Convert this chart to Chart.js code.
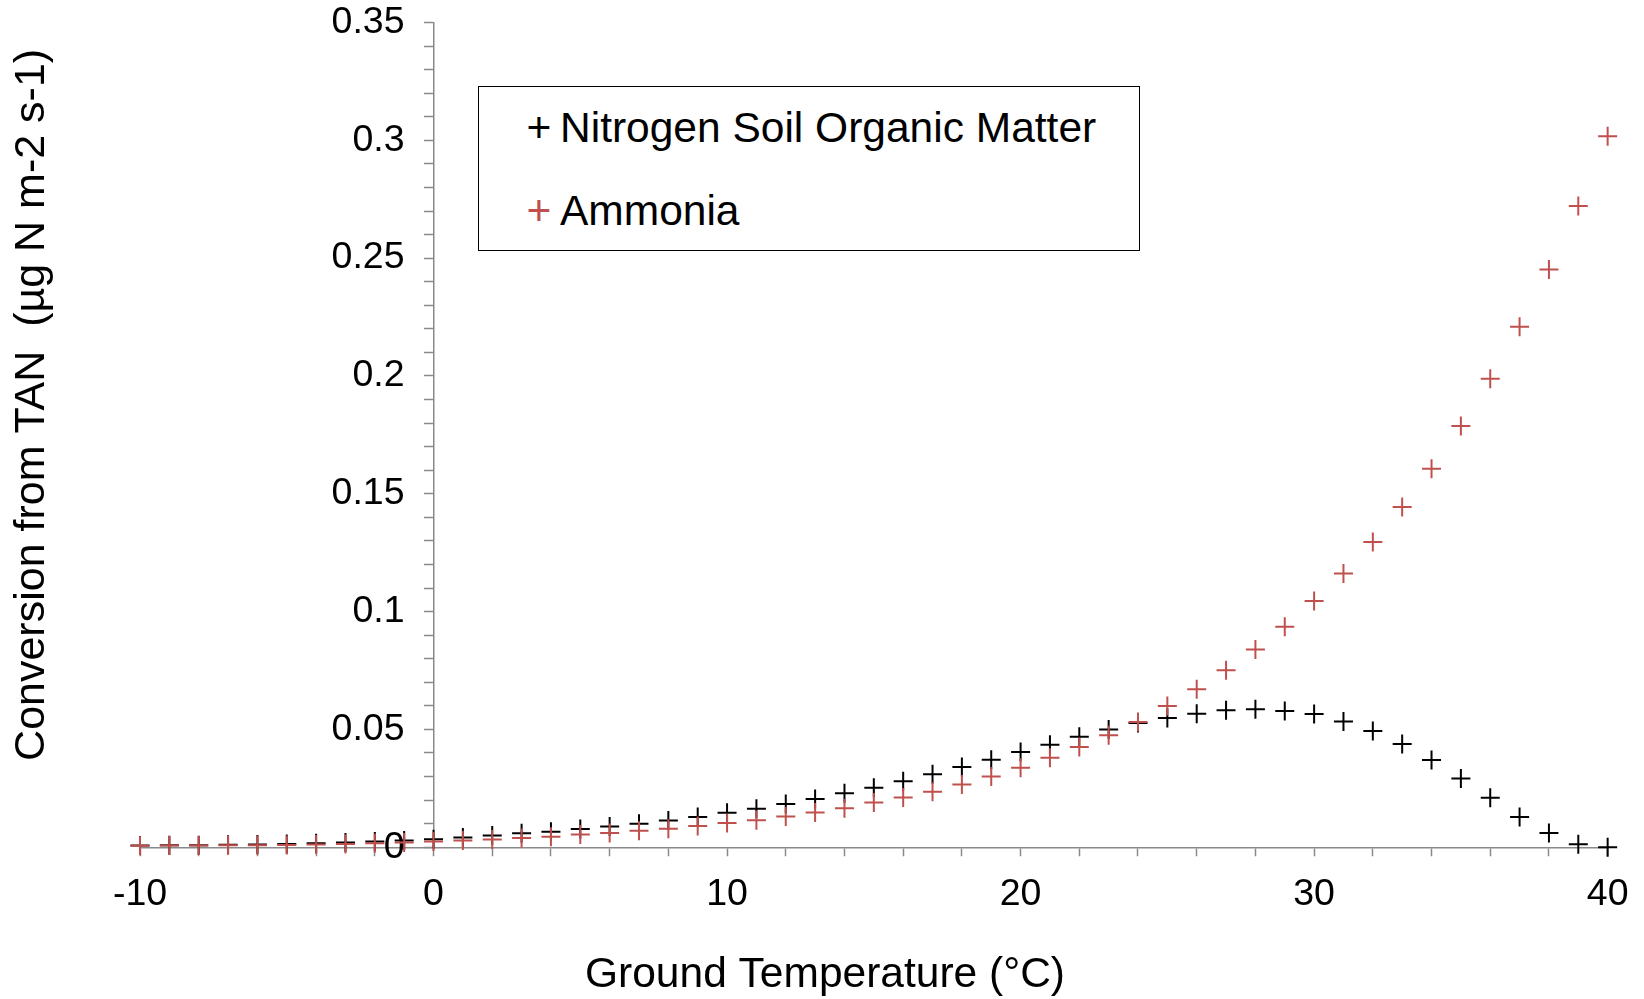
<!DOCTYPE html>
<html>
<head>
<meta charset="utf-8">
<script src="https://cdn.jsdelivr.net/npm/chart.js@4/dist/chart.umd.min.js"></script>
<style>
  html, body { margin: 0; padding: 0; background: #fff; }
  #wrap { position: relative; width: 1644px; height: 999px; }
  #legend {
    position: absolute; left: 478px; top: 86px; width: 662px; height: 165px;
    box-sizing: border-box; border: 1.5px solid #000; background: #fff;
    font-family: "Liberation Sans", Arial, sans-serif; font-size: 42.5px; color: #000;
  }
  .item { position: absolute; left: 0; height: 50px; line-height: 50px; white-space: nowrap; }
  .mark { position: absolute; width: 30px; margin-left: -15px; text-align: center; }
  .lbl { position: absolute; }
</style>
</head>
<body>
<div id="wrap">
  <canvas id="c" width="1644" height="999"></canvas>
  <div id="legend"></div>
</div>
<script>
// ---- data ----
const temperatures = [-10,-9,-8,-7,-6,-5,-4,-3,-2,-1,0,1,2,3,4,5,6,7,8,9,10,11,12,13,14,15,16,17,18,19,20,21,22,23,24,25,26,27,28,29,30,31,32,33,34,35,36,37,38,39,40];
const nitrogenSOM = [0.0007,0.0008,0.0009,0.0011,0.0012,0.0014,0.0017,0.0020,0.0024,0.0029,
  0.0034,0.0041,0.0050,0.0059,0.0066,0.0077,0.0088,0.0100,0.0113,0.0128,
  0.0146,0.0163,0.0184,0.0205,0.0229,0.0253,0.0280,0.0310,0.0341,0.0371,
  0.0404,0.0435,0.0469,0.0500,0.0527,0.0548,0.0567,0.0581,0.0586,0.0578,
  0.0565,0.0534,0.0493,0.0438,0.0370,0.0292,0.0210,0.0128,0.0061,0.0013,0.0000];
const ammonia = [0.0006,0.0007,0.0007,0.0008,0.0009,0.0010,0.0012,0.0014,0.0017,0.0020,
  0.0024,0.0029,0.0033,0.0039,0.0045,0.0054,0.0060,0.0070,0.0079,0.0090,
  0.0103,0.0115,0.0130,0.0147,0.0166,0.0190,0.0211,0.0236,0.0266,0.0300,
  0.0337,0.0380,0.0425,0.0475,0.0531,0.0599,0.0671,0.0751,0.0839,0.0936,
  0.1045,0.1162,0.1295,0.1444,0.1606,0.1788,0.1988,0.2209,0.2452,0.2721,0.3017];
const seriesNames = ['Nitrogen Soil Organic Matter', 'Ammonia'];
const xTickLabels = ['-10','0','10','20','30','40'];
const yTickLabels = ['0','0.05','0.1','0.15','0.2','0.25','0.3','0.35'];
const xTitle = 'Ground Temperature (°C)';
const yTitle = 'Conversion from TAN  (µg N m-2 s-1)';

// ---- styles ----
const FONT = '"Liberation Sans", Arial, sans-serif';
const AXIS = '#8a8a8a';
const COLORS = ['#000000', '#C0504D'];

const toPts = (ys) => temperatures.map((t, i) => ({x: t, y: ys[i]}));

const ds = (name, ys, color, order) => ({
  label: name, data: toPts(ys), showLine: false,
  pointStyle: 'cross', pointRadius: 9.5, pointHoverRadius: 9.5,
  pointBorderWidth: 2, borderColor: color, backgroundColor: color,
  clip: false, order: order
});

// shifts: y tick labels away from the centred axis, y title upward
const adjust = {
  id: 'adjust',
  afterLayout(chart) {
    const t = chart.scales.yTitleAxis;
    t.top -= 30; t.bottom -= 30;
  },
  beforeDraw(chart) {
    const s = chart.scales.y;
    const items = s.getLabelItems(chart.chartArea);
    if (!items.$shifted) {
      items.forEach(it => { it.options.translation[0] -= 29; });
      items.$shifted = true;
    }
  }
};

new Chart(document.getElementById('c'), {
  type: 'scatter',
  data: { datasets: [ ds(seriesNames[0], nitrogenSOM, COLORS[0], 1), ds(seriesNames[1], ammonia, COLORS[1], 0) ] },
  plugins: [adjust],
  options: {
    responsive: false, animation: false, devicePixelRatio: 1,
    layout: { padding: { left: 6, right: 0, top: 6, bottom: 0 } },
    plugins: {
      legend: { display: false }, tooltip: { enabled: false },
      title: {
        display: true, position: 'bottom', text: xTitle, color: '#000',
        font: { family: FONT, size: 42.5, weight: 'normal', lineHeight: 1.1 },
        padding: { top: 20, bottom: 0 }
      }
    },
    scales: {
      x: {
        type: 'linear', position: 'bottom', min: -10, max: 40,
        ticks: {
          stepSize: 2, autoSkip: false, maxRotation: 0, padding: 15.5, color: '#000',
          font: { family: FONT, size: 37.5 },
          callback: (v) => (Math.round(v) % 10 === 0 ? xTickLabels[(Math.round(v) + 10) / 10] : '')
        },
        grid: { drawOnChartArea: false, tickLength: 9, color: AXIS, tickColor: AXIS, tickWidth: 1.5 },
        border: { color: AXIS, width: 1.5 }
      },
      y: {
        type: 'linear', position: { x: 0 }, min: 0, max: 0.35, z: 1,
        ticks: {
          stepSize: 0.01, autoSkip: false, padding: 0, color: '#000',
          font: { family: FONT, size: 37.5 },
          callback: (v) => { const r = Math.round(v * 100); return r % 5 === 0 ? yTickLabels[r / 5] : ''; }
        },
        grid: { drawOnChartArea: false, tickLength: 9, color: AXIS, tickColor: AXIS, tickWidth: 1.5 },
        border: { color: AXIS, width: 1.5 }
      },
      yTitleAxis: {
        type: 'linear', axis: 'y', position: 'left', min: 0, max: 1,
        ticks: { display: false },
        grid: { display: false, drawTicks: false },
        border: { display: false },
        afterFit: (s) => { s.width = 134; },
        title: { display: true, text: yTitle, color: '#000', font: { family: FONT, size: 43 }, padding: { top: 0, bottom: 0 } }
      },
      padRight: {
        type: 'linear', axis: 'y', position: 'right', min: 0, max: 1,
        ticks: { display: false },
        grid: { display: false, drawTicks: false },
        border: { display: false },
        afterFit: (s) => { s.width = 33; }
      }
    }
  }
});

// ---- legend (HTML, real text) ----
const legend = document.getElementById('legend');
const rowCenters = [41, 124];
seriesNames.forEach((name, i) => {
  const row = document.createElement('div');
  row.className = 'item';
  row.style.top = (rowCenters[i] - 25) + 'px';
  const m = document.createElement('span');
  m.className = 'mark'; m.style.left = '60px'; m.style.color = COLORS[i]; m.textContent = '+';
  const t = document.createElement('span');
  t.className = 'lbl'; t.style.left = '81px'; t.textContent = name;
  row.appendChild(m); row.appendChild(t);
  legend.appendChild(row);
});
</script>
</body>
</html>
